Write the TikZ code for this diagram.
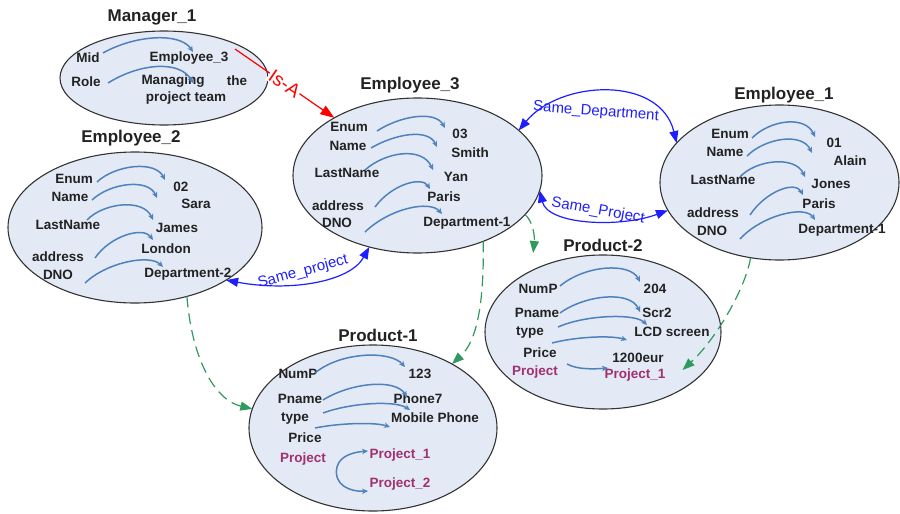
\documentclass[tikz,border=0pt]{standalone}
\usepackage{fontspec}
\setmainfont{Liberation Sans}
\usetikzlibrary{arrows.meta,shapes.geometric}
\definecolor{ellfill}{HTML}{E3EAF6}
\definecolor{ellline}{HTML}{333333}
\definecolor{valarrow}{HTML}{4F81BD}
\definecolor{relblue}{HTML}{1E1EFF}
\definecolor{depgreen}{HTML}{2E9A5E}
\definecolor{projpurple}{HTML}{A0306E}
\definecolor{txt}{HTML}{222222}
\begin{document}
\begin{tikzpicture}[x=1pt,y=-1pt,
 ent/.style={ellipse, draw=ellline, line width=1.1pt, fill=ellfill, inner sep=0pt, outer sep=0pt},
 ttl/.style={font=\fontsize{17}{19}\selectfont\bfseries, text=txt, inner sep=0pt},
 lbl/.style={font=\fontsize{13.5}{15}\selectfont\bfseries, text=txt, inner sep=0pt},
 plbl/.style={lbl, text=projpurple},
 va/.style={draw=valarrow, line width=1.5pt, -{Stealth[length=6pt,width=5.5pt]}},
 rel/.style={draw=relblue, line width=1.2pt, >={Triangle[length=12pt,width=9pt]}, <->},
 rellbl/.style={font=\fontsize{15}{17}\selectfont, text=relblue, inner sep=0pt},
 dep/.style={draw=depgreen, line width=1.2pt, dash pattern=on 11pt off 6pt, -{Triangle[length=12pt,width=9pt]}},
 isa/.style={draw=red, line width=1.2pt, -{Triangle[length=14pt,width=10pt]}},
]
\useasboundingbox (0,0) rectangle (900,514);

% ---------- ellipses ----------
\node[ent, minimum width=208pt, minimum height=94pt] (m1) at (164,78) {};
\node[ent, minimum width=249pt, minimum height=155pt] (e3) at (417.5,175.5) {};
\node[ent, minimum width=239pt, minimum height=155pt] (e1) at (779.5,182.5) {};
\node[ent, minimum width=254pt, minimum height=151pt] (e2) at (135,227.5) {};
\node[ent, minimum width=248pt, minimum height=166pt] (p1) at (373,428) {};
\node[ent, minimum width=236pt, minimum height=154pt] (p2) at (603,332) {};

% ---------- Manager_1 ----------
\node[ttl] (m1t) at (152,17) {Manager\_1};
\node[lbl] (m1k1) at (88,58) {Mid};
\node[lbl] (m1k2) at (86,82) {Role};
\node[lbl] (m1v1) at (189,58) {Employee\_3};
\node[lbl] (m1v2) at (173,81) {Managing};
\node[lbl] (m1v3) at (237,81) {the};
\node[lbl] (m1v4) at (186,98) {project team};
\draw[va] ([shift={(15,-5)}]m1k1.center) .. controls (135,35) and (180,32) .. ([shift={(4,-6)}]m1v1.center);
\draw[va] ([shift={(22,1)}]m1k2.center) .. controls (140,63) and (180,60) .. ([shift={(20,2)}]m1v2.center);

% ---------- Employee_3 ----------
\node[ttl] (e3t) at (410,85) {Employee\_3};
\node[lbl] (e3k1) at (349,127) {Enum};
\node[lbl] (e3k2) at (348,146) {Name};
\node[lbl] (e3k3) at (347,173) {LastName};
\node[lbl] (e3k4) at (338,206) {address};
\node[lbl] (e3k5) at (337,223) {DNO};
\node[lbl] (e3v1) at (460,134) {03};
\node[lbl] (e3v2) at (470,153) {Smith};
\node[lbl] (e3v3) at (456,177) {Yan};
\node[lbl] (e3v4) at (444,197) {Paris};
\node[lbl] (e3v5) at (467,223) {Department-1};
\draw[va] ([shift={(28,4)}]e3k1.center) .. controls (400,116) and (435,110) .. ([shift={(-15,-6)}]e3v1.center);
\draw[va] ([shift={(23,2)}]e3k2.center) .. controls (395,134) and (428,128) .. ([shift={(-33,-6)}]e3v2.center);
\draw[va] ([shift={(18,-3)}]e3k3.center) .. controls (385,152) and (422,146) .. ([shift={(-23,-7)}]e3v3.center);
\draw[va] ([shift={(37,1)}]e3k4.center) .. controls (392,184) and (422,176) .. ([shift={(-14,-8)}]e3v4.center);
\draw[va] ([shift={(28,9)}]e3k5.center) .. controls (390,208) and (430,200) .. ([shift={(-25,-9)}]e3v5.center);

% ---------- Employee_1 ----------
\node[ttl] (e1t) at (784,95) {Employee\_1};
\node[lbl] (e1k1) at (730,134) {Enum};
\node[lbl] (e1k2) at (725,152) {Name};
\node[lbl] (e1k3) at (723,180) {LastName};
\node[lbl] (e1k4) at (713,213) {address};
\node[lbl] (e1k5) at (712,231) {DNO};
\node[lbl] (e1v1) at (834,143) {01};
\node[lbl] (e1v2) at (850,161) {Alain};
\node[lbl] (e1v3) at (831,184) {Jones};
\node[lbl] (e1v4) at (819,204) {Paris};
\node[lbl] (e1v5) at (842,230) {Department-1};
\draw[va] ([shift={(22,4)}]e1k1.center) .. controls (770,120) and (805,115) .. ([shift={(-19,-6)}]e1v1.center);
\draw[va] ([shift={(22,4)}]e1k2.center) .. controls (765,138) and (802,132) .. ([shift={(-38,-8)}]e1v2.center);
\draw[va] ([shift={(17,-3)}]e1k3.center) .. controls (755,160) and (795,155) .. ([shift={(-26,-7)}]e1v3.center);
\draw[va] ([shift={(37,2)}]e1k4.center) .. controls (765,192) and (795,180) .. ([shift={(-16,-9)}]e1v4.center);
\draw[va] ([shift={(28,8)}]e1k5.center) .. controls (762,215) and (805,205) .. ([shift={(-27,-10)}]e1v5.center);

% ---------- Employee_2 ----------
\node[ttl] (e2t) at (131,138) {Employee\_2};
\node[lbl] (e2k1) at (74,179) {Enum};
\node[lbl] (e2k2) at (70,197) {Name};
\node[lbl] (e2k3) at (68,225) {LastName};
\node[lbl] (e2k4) at (58,257) {address};
\node[lbl] (e2k5) at (58,275) {DNO};
\node[lbl] (e2v1) at (181,187) {02};
\node[lbl] (e2v2) at (196,204) {Sara};
\node[lbl] (e2v3) at (177,228) {James};
\node[lbl] (e2v4) at (166,249) {London};
\node[lbl] (e2v5) at (188,274) {Department-2};
\draw[va] ([shift={(23,3)}]e2k1.center) .. controls (115,165) and (155,160) .. ([shift={(-16,-7)}]e2v1.center);
\draw[va] ([shift={(22,3)}]e2k2.center) .. controls (110,183) and (148,178) .. ([shift={(-39,-6)}]e2v2.center);
\draw[va] ([shift={(19,-5)}]e2k3.center) .. controls (103,203) and (143,198) .. ([shift={(-24,-8)}]e2v3.center);
\draw[va] ([shift={(37,1)}]e2k4.center) .. controls (110,236) and (143,226) .. ([shift={(-13,-9)}]e2v4.center);
\draw[va] ([shift={(27,8)}]e2k5.center) .. controls (107,262) and (150,254) .. ([shift={(-25,-7)}]e2v5.center);

% ---------- Product-1 ----------
\node[ttl] (p1t) at (378,335) {Product-1};
\node[lbl] (p1k1) at (298,374) {NumP};
\node[lbl] (p1k2) at (300,399) {Pname};
\node[lbl] (p1k3) at (295,418) {type};
\node[lbl] (p1k4) at (305,438) {Price};
\node[plbl] (p1k5) at (303,459) {Project};
\node[lbl] (p1v1) at (420,374) {123};
\node[lbl] (p1v2) at (418,399) {Phone7};
\node[lbl] (p1v3) at (435,418) {Mobile Phone};
\node[plbl] (p1v4) at (400,455) {Project\_1};
\node[plbl] (p1v5) at (400,484) {Project\_2};
\draw[va] ([shift={(17,-1)}]p1k1.center) .. controls (340,352) and (390,350) .. ([shift={(-15,-7)}]p1v1.center);
\draw[va] ([shift={(23,1)}]p1k2.center) .. controls (350,383) and (395,378) .. ([shift={(-11,-2)}]p1v2.center);
\draw[va] ([shift={(28,-5)}]p1k3.center) .. controls (350,403) and (395,400) .. ([shift={(-25,-8)}]p1v3.center);
\draw[va] ([shift={(10,-10)}]p1k4.center) .. controls (340,423) and (375,422) .. ([shift={(-45,9)}]p1v3.center);
\draw[va] ([shift={(34,8)}]p1k5.center) .. controls (340,455) and (355,452) .. ([shift={(-32,-4)}]p1v4.center);
\draw[va] ([shift={(34,8)}]p1k5.center) .. controls (333,485) and (350,492) .. ([shift={(-32,7)}]p1v5.center);

% ---------- Product-2 ----------
\node[ttl] (p2t) at (603,245) {Product-2};
\node[lbl] (p2k1) at (538,289) {NumP};
\node[lbl] (p2k2) at (537,313) {Pname};
\node[lbl] (p2k3) at (530,332) {type};
\node[lbl] (p2k4) at (540,353) {Price};
\node[plbl] (p2k5) at (535,372) {Project};
\node[lbl] (p2v1) at (655,289) {204};
\node[lbl] (p2v2) at (657,313) {Scr2};
\node[lbl] (p2v3) at (672,332) {LCD screen};
\node[lbl] (p2v4) at (638,358) {1200eur};
\node[plbl] (p2v5) at (635,375) {Project\_1};
\draw[va] ([shift={(22,-3)}]p2k1.center) .. controls (585,265) and (630,262) .. ([shift={(-15,-7)}]p2v1.center);
\draw[va] ([shift={(23,0)}]p2k2.center) .. controls (585,295) and (630,290) .. ([shift={(-17,-1)}]p2v2.center);
\draw[va] ([shift={(28,-5)}]p2k3.center) .. controls (585,315) and (635,313) .. ([shift={(-25,-7)}]p2v3.center);
\draw[va] ([shift={(12,-10)}]p2k4.center) .. controls (575,337) and (610,335) .. ([shift={(-11,-18)}]p2v4.center);
\draw[va] ([shift={(32,-8)}]p2k5.center) .. controls (578,370) and (595,369) .. ([shift={(-27,-7)}]p2v5.center);

% ---------- Is-A ----------
\draw[isa] ([shift={(46,-9)}]m1v1.center) -- (e3)
  node[midway, sloped, fill=white, inner sep=1pt, text=red, font=\fontsize{19}{21}\selectfont] (isalbl) {Is-A};

% ---------- blue relations ----------
\draw[rel] (e3.24) .. controls (560,80) and (660,75) .. (e1.159);
\node[rellbl, rotate=-4.5] (sdlbl) at (596,112) {Same\_Department};
\draw[rel] (e3.-7) .. controls (548,225) and (620,228) .. (e1.194);
\node[rellbl, rotate=-10] (splbl) at (598,211) {Same\_Project};
\draw[rel] (e2.-30) .. controls (290,292) and (350,282) .. (e3.236);
\node[rellbl, rotate=15] (spl2) at (303,272) {Same\_project};

% ---------- green dashed ----------
\draw[dep] (e2.-53) .. controls (192,360) and (215,400) .. (p1.171);
\draw[dep] (e3.-45) .. controls (484,300) and (478,340) .. (p1.39);
\draw[dep] (e3.-20) .. controls (532,220) and (535,235) .. ([shift={(-30,8)}]p2t.west);
\draw[dep] (e1.-111) .. controls (745,290) and (715,340) .. ([shift={(17,-5)}]p2v5.east);
\end{tikzpicture}
\end{document}
